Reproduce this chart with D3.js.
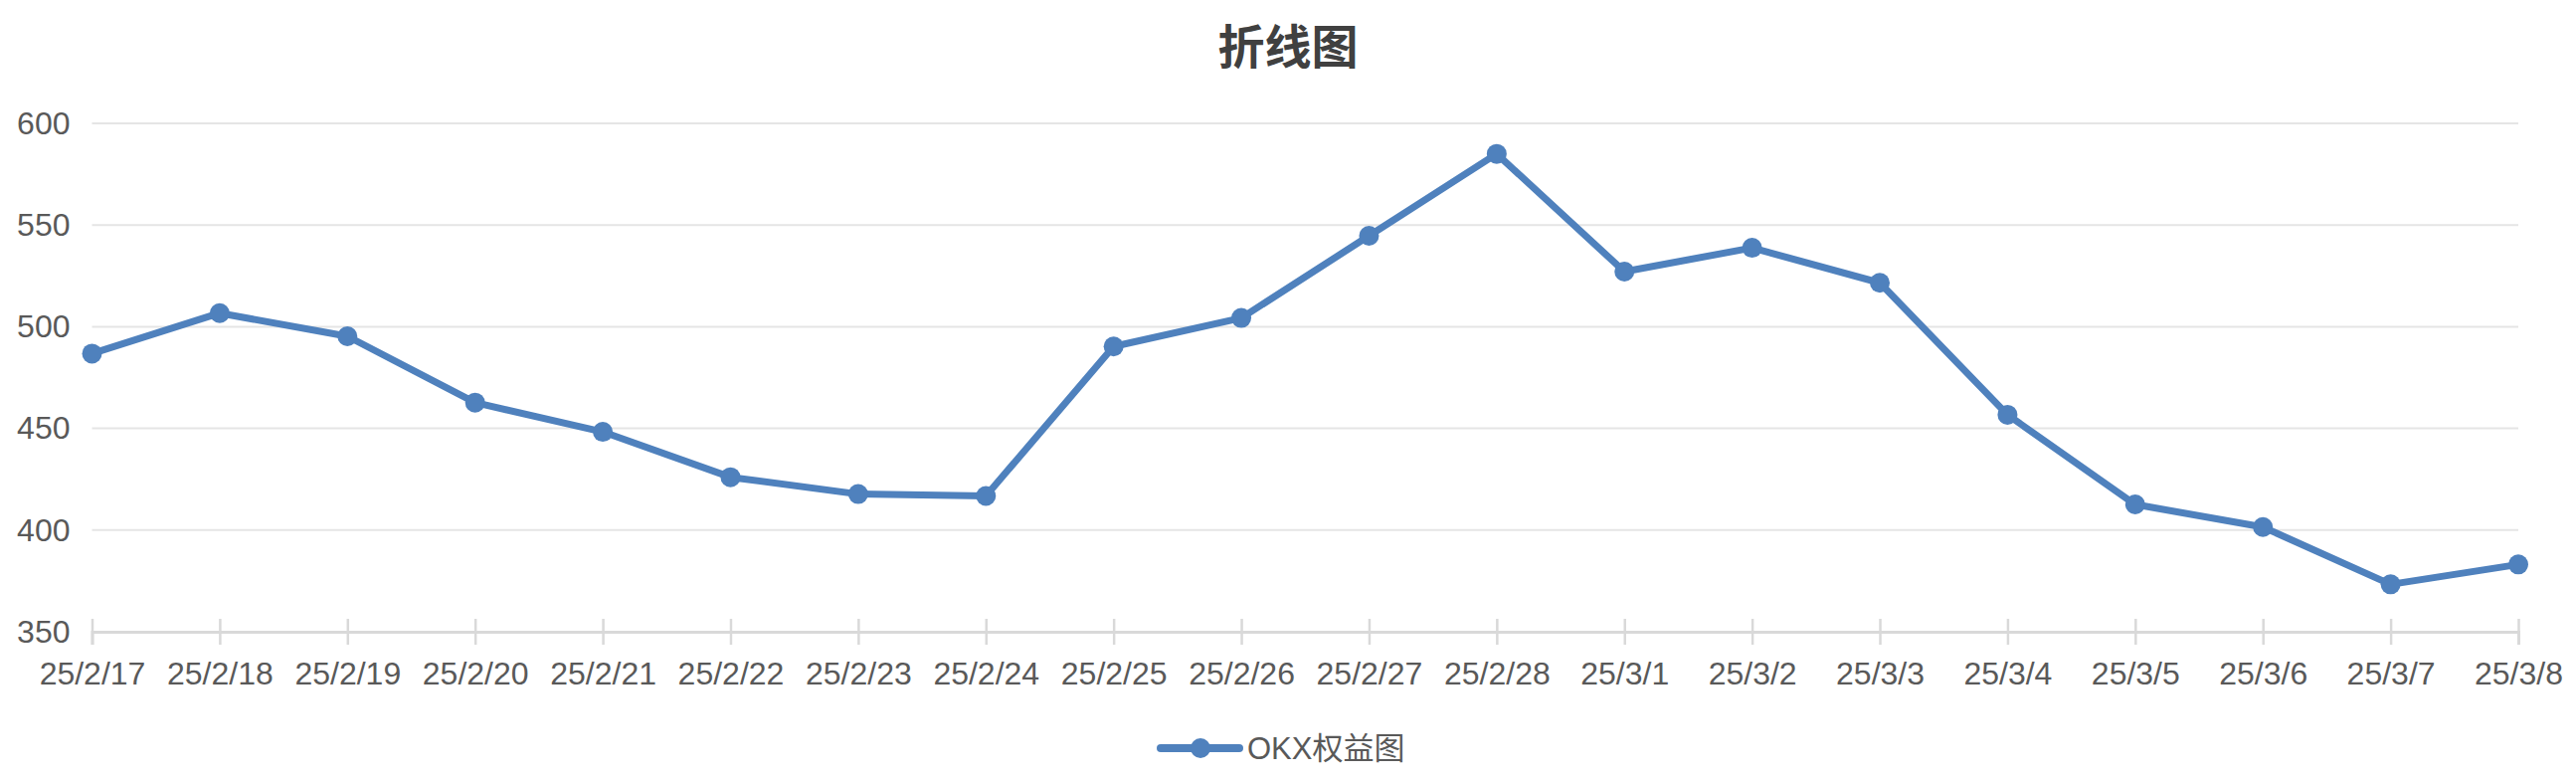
<!DOCTYPE html>
<html>
<head>
<meta charset="utf-8">
<script src="https://cdn.jsdelivr.net/npm/d3@7"></script>
<style>
  html, body { margin: 0; padding: 0; background: #fff; }
  svg { display: block; font-family: "Liberation Sans", Arial, "Noto Sans CJK SC", sans-serif; }
</style>
</head>
<body>
<div id="chart"></div>
<script>
const dates = ["25/2/17", "25/2/18", "25/2/19", "25/2/20", "25/2/21", "25/2/22", "25/2/23",
               "25/2/24", "25/2/25", "25/2/26", "25/2/27", "25/2/28", "25/3/1", "25/3/2",
               "25/3/3", "25/3/4", "25/3/5", "25/3/6", "25/3/7", "25/3/8"];
const equity = [486.8, 506.7, 495.3, 462.7, 448.3, 426, 417.7, 416.8, 490.3, 504.3,
                544.7, 585, 527.1, 538.8, 521.6, 456.7, 412.6, 401.5, 373.3, 383.1];
const yTicks = [350, 400, 450, 500, 550, 600];
const title = "折线图";
const seriesName = "OKX权益图";

document.addEventListener('DOMContentLoaded', function() {
    const totalWidth = 2590, totalHeight = 784;
    const margin = {top: 124, right: 58, bottom: 149, left: 92.5};
    const width = totalWidth - margin.left - margin.right;
    const height = totalHeight - margin.top - margin.bottom;
    const blue = "#4f81bd";

    const svg = d3.select("#chart")
                  .append("svg")
                  .attr("width", totalWidth)
                  .attr("height", totalHeight);

    svg.append("text")
       .attr("x", totalWidth / 2)
       .attr("y", 43)
       .attr("text-anchor", "middle")
       .attr("dominant-baseline", "central")
       .attr("font-family", "'Noto Sans CJK SC', sans-serif")
       .attr("font-size", 47)
       .attr("font-weight", "bold")
       .attr("fill", "#404040")
       .text(title);

    const g = svg.append("g")
                 .attr("transform", `translate(${margin.left},${margin.top})`);

    const x = d3.scalePoint().domain(dates).range([0, width]);
    const y = d3.scaleLinear().domain([350, 600]).range([height, 0]);

    // horizontal grid
    g.append("g")
     .selectAll("line")
     .data(yTicks.slice(1))
     .enter().append("line")
     .attr("x1", 0)
     .attr("x2", width)
     .attr("y1", d => y(d))
     .attr("y2", d => y(d))
     .attr("stroke", "#e5e5e5")
     .attr("stroke-width", 2);

    // y axis labels only
    const yAxis = g.append("g")
                   .call(d3.axisLeft(y).tickValues(yTicks).tickSize(0).tickPadding(22));
    yAxis.select(".domain").remove();
    yAxis.selectAll("text")
         .attr("font-size", 32)
         .attr("fill", "#595959")
         .attr("font-family", "'Liberation Sans', Arial, sans-serif");

    // x axis
    const xAxis = g.append("g")
                   .attr("transform", `translate(0,${height})`)
                   .call(d3.axisBottom(x).tickSize(13).tickPadding(17));
    xAxis.select(".domain")
         .attr("stroke", "#d9d9d9")
         .attr("stroke-width", 3);
    xAxis.selectAll(".tick line")
         .attr("y1", -13)
         .attr("stroke", "#d9d9d9")
         .attr("stroke-width", 2.5);
    xAxis.selectAll("text")
         .attr("font-size", 32)
         .attr("fill", "#595959")
         .attr("font-family", "'Liberation Sans', Arial, sans-serif");

    const points = dates.map((d, i) => ({date: d, value: equity[i]}));

    const line = d3.line()
                   .x(d => x(d.date))
                   .y(d => y(d.value));

    g.append("path")
     .datum(points)
     .attr("fill", "none")
     .attr("stroke", blue)
     .attr("stroke-width", 7)
     .attr("stroke-linejoin", "round")
     .attr("d", line);

    g.selectAll(".dot")
     .data(points)
     .enter().append("circle")
     .attr("class", "dot")
     .attr("cx", d => x(d.date))
     .attr("cy", d => y(d.value))
     .attr("r", 10)
     .attr("fill", blue);

    // legend
    const legend = svg.append("g")
                      .attr("transform", `translate(1167,752)`);
    legend.append("line")
          .attr("x1", 0).attr("x2", 79)
          .attr("y1", 0).attr("y2", 0)
          .attr("stroke", blue)
          .attr("stroke-width", 8)
          .attr("stroke-linecap", "round");
    legend.append("circle")
          .attr("cx", 40).attr("cy", 0)
          .attr("r", 10)
          .attr("fill", blue);
    legend.append("text")
          .attr("x", 87)
          .attr("y", 0)
          .attr("dominant-baseline", "central")
          .attr("font-size", 31)
          .attr("fill", "#595959")
          .text(seriesName);
});
</script>
</body>
</html>
